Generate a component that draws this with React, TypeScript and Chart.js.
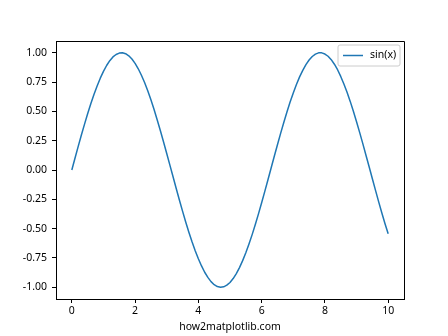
import React, { useEffect, useRef } from "react";
import { Chart, registerables } from "chart.js";

Chart.register(...registerables);

const xValues = [
  0.0, 0.1, 0.2, 0.3, 0.4, 0.5, 0.6, 0.7, 0.8, 0.9,
  1.0, 1.1, 1.2, 1.3, 1.4, 1.5, 1.6, 1.7, 1.8, 1.9,
  2.0, 2.1, 2.2, 2.3, 2.4, 2.5, 2.6, 2.7, 2.8, 2.9,
  3.0, 3.1, 3.2, 3.3, 3.4, 3.5, 3.6, 3.7, 3.8, 3.9,
  4.0, 4.1, 4.2, 4.3, 4.4, 4.5, 4.6, 4.7, 4.8, 4.9,
  5.0, 5.1, 5.2, 5.3, 5.4, 5.5, 5.6, 5.7, 5.8, 5.9,
  6.0, 6.1, 6.2, 6.3, 6.4, 6.5, 6.6, 6.7, 6.8, 6.9,
  7.0, 7.1, 7.2, 7.3, 7.4, 7.5, 7.6, 7.7, 7.8, 7.9,
  8.0, 8.1, 8.2, 8.3, 8.4, 8.5, 8.6, 8.7, 8.8, 8.9,
  9.0, 9.1, 9.2, 9.3, 9.4, 9.5, 9.6, 9.7, 9.8, 9.9,
  10.0,
];
const sinValues = [
  0.0, 0.1, 0.199, 0.296, 0.389, 0.479, 0.565, 0.644, 0.717, 0.783,
  0.841, 0.891, 0.932, 0.964, 0.985, 0.997, 1.0, 0.992, 0.974, 0.946,
  0.909, 0.863, 0.808, 0.746, 0.675, 0.598, 0.516, 0.427, 0.335, 0.239,
  0.141, 0.042, -0.058, -0.158, -0.256, -0.351, -0.443, -0.53, -0.612, -0.688,
  -0.757, -0.818, -0.872, -0.916, -0.952, -0.978, -0.994, -1.0, -0.996, -0.982,
  -0.959, -0.926, -0.883, -0.832, -0.773, -0.706, -0.631, -0.551, -0.465, -0.374,
  -0.279, -0.182, -0.083, 0.017, 0.117, 0.215, 0.312, 0.405, 0.494, 0.579,
  0.657, 0.729, 0.794, 0.85, 0.899, 0.938, 0.968, 0.988, 0.999, 0.999,
  0.989, 0.97, 0.941, 0.902, 0.855, 0.798, 0.734, 0.663, 0.585, 0.501,
  0.412, 0.319, 0.223, 0.124, 0.025, -0.075, -0.174, -0.272, -0.366, -0.458,
  -0.544,
];
const xTicks = [0, 2, 4, 6, 8, 10];
const yTicks = [-1.0, -0.75, -0.5, -0.25, 0.0, 0.25, 0.5, 0.75, 1.0];
const seriesLabel = "sin(x)";
const xTitle = "how2matplotlib.com";

const FONT = "'Noto Sans', sans-serif";
const FONT_SIZE = 10.5;
const LINE_COLOR = "#1f77b4";

const framePlugin = {
  id: "frameAndLegend",
  afterDraw(chart: any) {
    const { ctx, chartArea } = chart;
    const { left, right, top, bottom } = chartArea;
    ctx.save();
    ctx.strokeStyle = "#000";
    ctx.lineWidth = 1;
    ctx.beginPath();
    ctx.moveTo(Math.round(left) + 0.5, Math.round(top) + 0.5);
    ctx.lineTo(Math.round(right) + 0.5, Math.round(top) + 0.5);
    ctx.lineTo(Math.round(right) + 0.5, Math.round(bottom) + 0.5);
    ctx.stroke();

    // legend box
    const bw = 62;
    const bh = 21;
    const bx = right - 4 - bw;
    const by = top + 4;
    ctx.fillStyle = "rgba(255,255,255,0.8)";
    ctx.strokeStyle = "#cccccc";
    ctx.beginPath();
    const r = 2;
    ctx.moveTo(bx + r, by);
    ctx.lineTo(bx + bw - r, by);
    ctx.quadraticCurveTo(bx + bw, by, bx + bw, by + r);
    ctx.lineTo(bx + bw, by + bh - r);
    ctx.quadraticCurveTo(bx + bw, by + bh, bx + bw - r, by + bh);
    ctx.lineTo(bx + r, by + bh);
    ctx.quadraticCurveTo(bx, by + bh, bx, by + bh - r);
    ctx.lineTo(bx, by + r);
    ctx.quadraticCurveTo(bx, by, bx + r, by);
    ctx.closePath();
    ctx.fill();
    ctx.stroke();

    ctx.strokeStyle = LINE_COLOR;
    ctx.lineWidth = 1.5;
    ctx.beginPath();
    ctx.moveTo(bx + 5, by + bh / 2);
    ctx.lineTo(bx + 25, by + bh / 2);
    ctx.stroke();

    ctx.fillStyle = "#000";
    ctx.font = `${FONT_SIZE}px ${FONT}`;
    ctx.textBaseline = "middle";
    ctx.textAlign = "left";
    ctx.fillText(seriesLabel, bx + 32, by + bh / 2);
    ctx.restore();
  },
};

export default function App() {
  const ref = useRef<HTMLCanvasElement | null>(null);

  useEffect(() => {
    document.body.style.margin = "0";
    const canvas = ref.current!;
    const chart = new Chart(canvas, {
      type: "line",
      data: {
        datasets: [
          {
            label: seriesLabel,
            data: xValues.map((x, i) => ({ x, y: sinValues[i] })),
            borderColor: LINE_COLOR,
            borderWidth: 1.5,
            pointRadius: 0,
            tension: 0,
            borderJoinStyle: "round",
            borderCapStyle: "butt",
            fill: false,
          },
        ],
      },
      options: {
        animation: false,
        responsive: false,
        maintainAspectRatio: false,
        layout: { padding: { left: 0, top: 41, right: 44, bottom: 0 } },
        plugins: {
          legend: { display: false },
          tooltip: { enabled: false },
        },
        scales: {
          x: {
            type: "linear",
            min: -0.5,
            max: 10.5,
            afterBuildTicks: (scale: any) => {
              scale.ticks = xTicks.map((v) => ({ value: v }));
            },
            afterFit: (scale: any) => {
              scale.height = 37;
            },
            grid: { drawOnChartArea: false, tickLength: 4, tickColor: "#000", tickWidth: 1 },
            border: { color: "#000", width: 1 },
            ticks: {
              color: "#000",
              font: { family: FONT, size: FONT_SIZE },
              padding: 2,
              maxRotation: 0,
              callback: (v: any) => String(v),
            },
            title: {
              display: true,
              text: xTitle,
              color: "#000",
              font: { family: FONT, size: FONT_SIZE },
              padding: { top: 0, bottom: 3 },
            },
          },
          y: {
            type: "linear",
            min: -1.1,
            max: 1.1,
            afterBuildTicks: (scale: any) => {
              scale.ticks = yTicks.map((v) => ({ value: v }));
            },
            afterFit: (scale: any) => {
              scale.width = 56;
            },
            grid: { drawOnChartArea: false, tickLength: 4, tickColor: "#000", tickWidth: 1 },
            border: { color: "#000", width: 1 },
            ticks: {
              color: "#000",
              font: { family: FONT, size: FONT_SIZE },
              padding: 5,
              callback: (v: any) => Number(v).toFixed(2),
            },
          },
        },
      },
      plugins: [framePlugin],
    });
    return () => chart.destroy();
  }, []);

  return (
    <div style={{ position: "absolute", left: 0, top: 0, width: 448, height: 336, background: "#fff" }}>
      <canvas ref={ref} width={448} height={336} style={{ width: 448, height: 336 }} />
    </div>
  );
}
